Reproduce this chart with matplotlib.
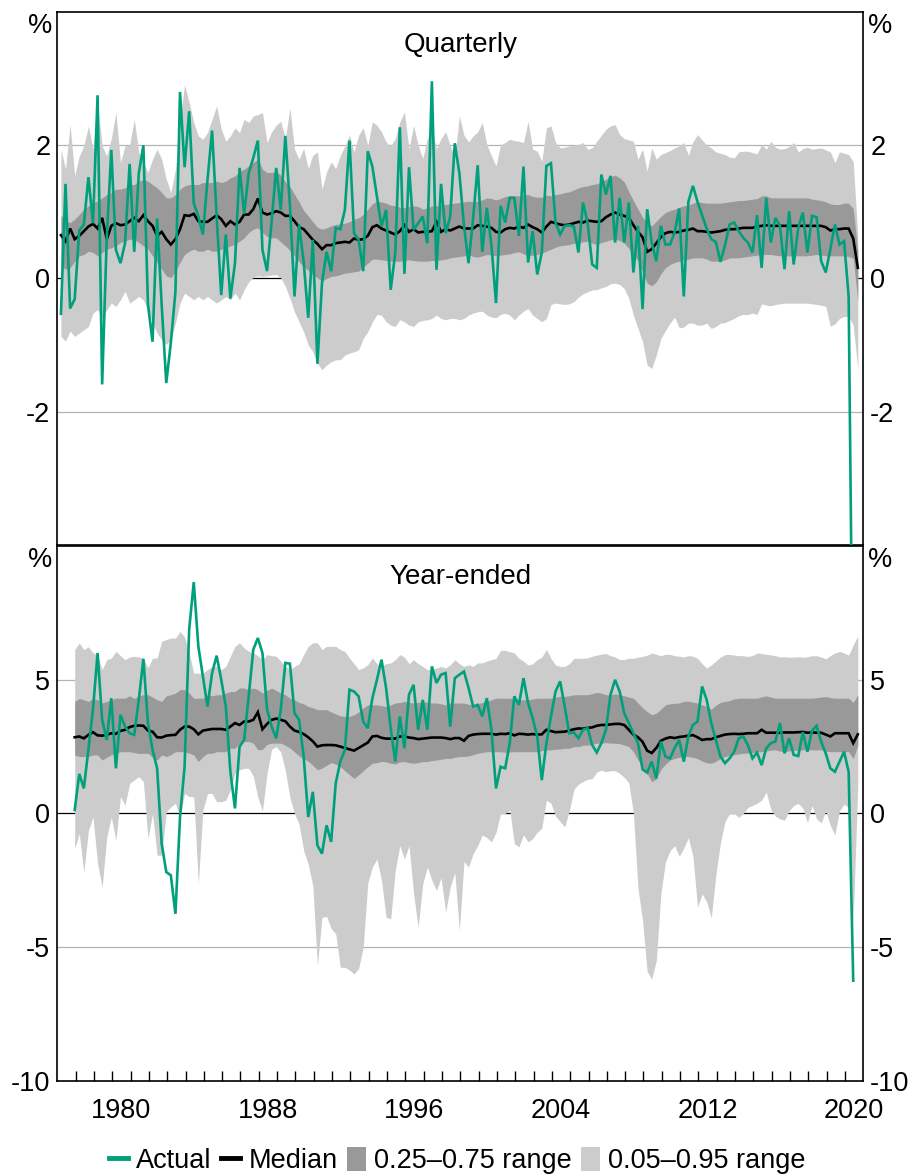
import numpy as np
import pandas as pd
import matplotlib
matplotlib.use("Agg")
import matplotlib.pyplot as plt
from matplotlib.patches import Patch
from matplotlib.lines import Line2D

plt.rcParams['font.family'] = ['Liberation Sans', 'DejaVu Sans']
plt.rcParams['axes.unicode_minus'] = False

# ---------------- Quarterly growth (%), 1977Q1 onwards ----------------
q_start = '1977Q1'
q_actual = [
    -0.53, 1.42, -0.45, -0.31, 0.72, 0.81, 1.52, 0.83, 2.75, -1.59,
    0.6, 1.93, 0.43, 0.23, 0.53, 1.72, 0.4, 1.58, 2.0, -0.39,
    -0.95, 0.9, -0.4, -1.57, -0.96, -0.2, 2.8, 1.67, 2.51, 1.13,
    0.93, 0.66, 1.48, 2.22, 0.93, -0.25, 0.66, -0.3, 0.23, 1.66,
    0.97, 1.58, 1.81, 2.07, 0.43, 0.11, 0.85, 1.66, 1.03, 2.14,
    1.1, -0.27, 0.81, 0.25, -0.59, 0.58, -1.28, -0.07, 0.4, 0.11,
    0.76, 0.74, 1.03, 2.07, 0.68, 0.58, 0.11, 1.91, 1.68, 1.23,
    0.78, 1.03, -0.17, 0.38, 2.27, 0.07, 1.67, 0.73, 0.83, 0.93,
    0.53, 2.96, 0.13, 1.42, 0.68, 0.93, 2.03, 1.58, 0.8, 0.23,
    0.9, 1.7, 0.4, 1.06, 0.5, -0.37, 1.09, 0.84, 1.21, 1.21,
    0.64, 1.68, 0.24, 0.71, 0.06, 0.39, 1.69, 1.73, 0.84, 0.66,
    0.79, 0.8, 0.78, 0.39, 1.14, 0.84, 0.21, 0.16, 1.56, 1.26,
    1.54, 0.54, 1.21, 0.54, 1.14, 0.09, 0.79, -0.46, 1.04, 0.54,
    0.26, 0.79, 0.51, 0.51, 0.69, 1.05, -0.27, 1.15, 1.39, 1.15,
    0.95, 0.75, 0.59, 0.55, 0.25, 0.5, 0.81, 0.84, 0.71, 0.61,
    0.54, 0.39, 0.95, 0.16, 1.21, 0.54, 0.91, 0.79, 0.14, 1.01,
    0.21, 0.76, 0.99, 0.39, 0.94, 0.92, 0.26, 0.09, 0.44, 0.81,
    0.51, 0.56, -0.27, -7.0]
q_median = [
    0.65, 0.56, 0.75, 0.59, 0.64, 0.71, 0.78, 0.82, 0.75, 0.91,
    0.59, 0.79, 0.83, 0.8, 0.81, 0.86, 0.91, 0.86, 0.95, 0.86,
    0.79, 0.64, 0.7, 0.59, 0.51, 0.59, 0.74, 0.95, 0.94, 0.97,
    0.86, 0.85, 0.85, 0.9, 0.95, 0.89, 0.79, 0.86, 0.81, 0.85,
    0.96, 0.96, 1.04, 1.2, 0.99, 0.96, 0.98, 1.01, 0.99, 0.94,
    0.94, 0.86, 0.77, 0.74, 0.66, 0.58, 0.52, 0.44, 0.5, 0.5,
    0.53, 0.54, 0.55, 0.54, 0.6, 0.58, 0.59, 0.64, 0.77, 0.8,
    0.75, 0.72, 0.69, 0.66, 0.71, 0.8, 0.7, 0.74, 0.69, 0.7,
    0.7, 0.71, 0.85, 0.7, 0.74, 0.72, 0.75, 0.78, 0.75, 0.75,
    0.75, 0.8, 0.79, 0.78, 0.76, 0.7, 0.69, 0.74, 0.76, 0.75,
    0.78, 0.76, 0.81, 0.77, 0.74, 0.69, 0.78, 0.85, 0.83, 0.81,
    0.8, 0.81, 0.83, 0.85, 0.84, 0.87, 0.86, 0.85, 0.86, 0.92,
    0.96, 0.99, 0.96, 0.94, 0.91, 0.8, 0.7, 0.62, 0.4, 0.44,
    0.53, 0.62, 0.68, 0.7, 0.69, 0.7, 0.72, 0.73, 0.75, 0.71,
    0.71, 0.7, 0.69, 0.7, 0.71, 0.73, 0.74, 0.74, 0.75, 0.76,
    0.76, 0.76, 0.78, 0.79, 0.8, 0.79, 0.79, 0.79, 0.79, 0.79,
    0.79, 0.79, 0.79, 0.79, 0.79, 0.79, 0.79, 0.77, 0.72, 0.74,
    0.74, 0.75, 0.75, 0.6, 0.16]
q_p75 = [
    0.95, 0.86, 0.84, 0.89, 0.96, 1.04, 1.09, 1.14, 1.16, 1.21,
    1.26, 1.29, 1.34, 1.34, 1.36, 1.41, 1.41, 1.46, 1.49, 1.46,
    1.41, 1.36, 1.29, 1.21, 1.21, 1.26, 1.34, 1.39, 1.41, 1.41,
    1.41, 1.44, 1.44, 1.44, 1.46, 1.44, 1.46, 1.51, 1.54, 1.61,
    1.64, 1.69, 1.74, 1.79, 1.64, 1.59, 1.59, 1.61, 1.55, 1.45,
    1.38, 1.26, 1.15, 1.02, 0.94, 0.85, 0.77, 0.74, 0.76, 0.79,
    0.81, 0.82, 0.83, 0.85, 0.89, 0.91, 0.96, 1.04, 1.12, 1.16,
    1.15, 1.13, 1.1, 1.09, 1.07, 1.06, 1.08, 1.09, 1.08, 1.04,
    1.06, 1.09, 1.09, 1.1, 1.11, 1.12, 1.13, 1.14, 1.15, 1.16,
    1.15, 1.16, 1.18, 1.21, 1.2, 1.18, 1.2, 1.23, 1.24, 1.24,
    1.24, 1.25, 1.26, 1.23, 1.22, 1.22, 1.25, 1.24, 1.26, 1.27,
    1.29, 1.3, 1.33, 1.36, 1.38, 1.39, 1.41, 1.42, 1.45, 1.49,
    1.53, 1.55, 1.51, 1.45, 1.3, 1.17, 1.04, 0.92, 0.83, 0.79,
    0.86, 0.93, 0.99, 1.02, 1.04, 1.07, 1.09, 1.1, 1.13, 1.15,
    1.14, 1.13, 1.13, 1.13, 1.13, 1.14, 1.15, 1.16, 1.17, 1.17,
    1.18, 1.19, 1.2, 1.24, 1.24, 1.21, 1.21, 1.21, 1.21, 1.21,
    1.21, 1.21, 1.21, 1.21, 1.19, 1.18, 1.17, 1.15, 1.12, 1.11,
    1.11, 1.13, 1.13, 1.05, 0.41]
q_p25 = [
    0.19, 0.14, 0.16, 0.26, 0.34, 0.36, 0.41, 0.39, 0.34, 0.39,
    0.44, 0.46, 0.49, 0.54, 0.56, 0.59, 0.59, 0.54, 0.49, 0.44,
    0.34, 0.24, 0.14, 0.04, 0.01, 0.11, 0.24, 0.36, 0.41, 0.44,
    0.41, 0.41, 0.44, 0.41, 0.41, 0.44, 0.46, 0.49, 0.51, 0.56,
    0.61, 0.69, 0.74, 0.76, 0.69, 0.63, 0.61, 0.61, 0.55, 0.49,
    0.42, 0.34, 0.25, 0.18, 0.12, 0.06, 0.01, -0.04, 0.0, 0.03,
    0.04, 0.06, 0.08, 0.09, 0.1, 0.11, 0.17, 0.23, 0.29, 0.29,
    0.28, 0.27, 0.26, 0.26, 0.26, 0.27, 0.28, 0.27, 0.26, 0.26,
    0.26, 0.27, 0.27, 0.28, 0.29, 0.31, 0.32, 0.33, 0.34, 0.36,
    0.33, 0.32, 0.34, 0.36, 0.35, 0.34, 0.35, 0.36, 0.37, 0.39,
    0.4, 0.37, 0.34, 0.35, 0.36, 0.38, 0.41, 0.44, 0.47, 0.49,
    0.5, 0.51, 0.53, 0.54, 0.55, 0.56, 0.53, 0.51, 0.54, 0.56,
    0.58, 0.59, 0.57, 0.53, 0.45, 0.35, 0.27, 0.1, -0.07, -0.11,
    -0.05, 0.07, 0.16, 0.21, 0.24, 0.26, 0.28, 0.29, 0.31, 0.31,
    0.31, 0.29, 0.26, 0.26, 0.26, 0.28, 0.31, 0.31, 0.31, 0.32,
    0.33, 0.34, 0.35, 0.36, 0.36, 0.36, 0.35, 0.34, 0.34, 0.34,
    0.34, 0.34, 0.34, 0.34, 0.35, 0.36, 0.35, 0.34, 0.34, 0.34,
    0.34, 0.34, 0.33, 0.3, -0.34]
q_p95 = [
    1.94, 1.64, 2.31, 1.54, 1.84, 1.99, 2.29, 1.94, 2.64, 1.99,
    1.84, 2.1, 2.49, 1.74, 1.99, 2.0, 2.39, 1.89, 1.74, 1.59,
    1.79, 1.94, 1.79, 1.49, 1.29, 1.64, 2.39, 2.91, 2.64, 2.34,
    2.14, 2.09, 2.19, 2.39, 2.59, 2.24, 2.06, 2.14, 2.26, 2.19,
    2.39, 2.34, 2.44, 2.46, 2.49, 2.04, 2.2, 2.3, 2.36, 2.1,
    2.56, 1.94, 1.79, 1.95, 1.65, 1.85, 1.9, 1.34, 1.6, 1.75,
    1.65, 1.85, 1.99, 2.15, 1.9, 2.15, 2.26, 2.0, 2.35, 2.3,
    2.2, 2.05, 1.99, 2.1, 2.35, 2.5, 1.94, 2.3, 2.0, 1.8,
    2.1, 2.24, 1.95, 2.1, 2.2, 2.0, 1.81, 2.44, 2.15, 2.05,
    2.14, 2.2, 2.34, 2.01, 1.84, 1.69, 2.01, 2.04, 2.09, 2.07,
    2.06, 2.04, 2.36, 1.94, 1.91, 1.76, 2.26, 2.29, 2.04, 1.96,
    1.97, 1.99, 2.0, 2.01, 2.04, 1.94, 1.96, 2.06, 2.15, 2.24,
    2.29, 2.31, 2.16, 2.1, 2.08, 2.06, 1.79, 1.94, 1.61, 1.96,
    1.79, 1.86, 1.89, 1.92, 1.96, 1.99, 2.04, 1.85, 2.05, 2.16,
    2.08, 2.0, 1.96, 1.9, 1.88, 1.86, 1.82, 1.81, 1.9, 1.91,
    1.91, 1.89, 1.87, 2.01, 1.94, 2.06, 1.97, 1.94, 1.95, 1.98,
    2.04, 1.9, 1.95, 1.97, 1.94, 1.95, 1.96, 1.93, 1.9, 1.74,
    1.9, 1.88, 1.86, 1.75, 0.64]
q_p05 = [
    -0.87, -0.94, -0.79, -0.87, -0.82, -0.77, -0.72, -0.52, -0.47, -0.59,
    -0.47, -0.37, -0.42, -0.32, -0.19, -0.37, -0.32, -0.27, -0.32, -0.47,
    -0.67, -0.82, -0.92, -0.99, -0.92, -0.67, -0.37, -0.22, -0.27, -0.32,
    -0.27, -0.32, -0.27, -0.32, -0.37, -0.32, -0.27, -0.32, -0.22, -0.32,
    -0.17, -0.05, 0.02, 0.04, 0.03, 0.04, 0.05, 0.06, 0.01, -0.12,
    -0.3, -0.5, -0.65, -0.8, -1.0, -1.1, -1.27, -1.37, -1.3, -1.25,
    -1.22, -1.22, -1.15, -1.12, -1.1, -1.07, -0.9, -0.8, -0.65, -0.54,
    -0.55, -0.65, -0.7, -0.72, -0.62, -0.65, -0.7, -0.72, -0.65, -0.63,
    -0.62, -0.6, -0.55, -0.6, -0.62, -0.6, -0.6, -0.62, -0.6, -0.55,
    -0.52, -0.5, -0.49, -0.55, -0.58, -0.59, -0.54, -0.52, -0.55, -0.62,
    -0.55, -0.49, -0.45, -0.55, -0.6, -0.65, -0.6, -0.39, -0.37, -0.38,
    -0.39, -0.38, -0.35, -0.28, -0.23, -0.2, -0.17, -0.17, -0.14, -0.12,
    -0.08, -0.07, -0.09, -0.15, -0.3, -0.55, -0.75, -0.95, -1.3, -1.35,
    -1.15, -0.9, -0.78, -0.67, -0.58, -0.74, -0.73, -0.67, -0.67, -0.7,
    -0.7, -0.67, -0.75, -0.72, -0.67, -0.66, -0.63, -0.6, -0.56, -0.54,
    -0.54, -0.52, -0.54, -0.38, -0.4, -0.41, -0.39, -0.38, -0.37, -0.37,
    -0.37, -0.37, -0.37, -0.37, -0.38, -0.39, -0.4, -0.42, -0.72, -0.68,
    -0.6, -0.57, -0.57, -0.7, -1.37]

# ---------------- Year-ended growth (%), 1977Q4 onwards ----------------
ye_start = '1977Q4'
ye_actual = [
    0.13, 1.48, 0.94, 2.4, 3.9, 6.0, 3.5, 2.75, 4.31, 1.69,
    3.69, 3.25, 3.0, 2.94, 4.25, 5.78, 3.38, 2.38, 1.69, -1.13,
    -2.19, -2.31, -3.75, -0.13, 1.75, 6.88, 8.65, 6.25, 5.13, 4.0,
    5.25, 5.9, 5.0, 4.0, 1.56, 0.19, 2.5, 2.75, 4.38, 6.13,
    6.56, 6.0, 3.9, 3.25, 2.81, 3.88, 5.63, 5.6, 3.75, 3.5,
    2.13, -0.13, 0.81, -1.19, -1.5, -0.44, -1.06, 1.13, 1.94, 2.38,
    4.63, 4.56, 4.38, 3.44, 3.19, 4.31, 5.0, 5.75, 4.69, 3.19,
    1.94, 3.63, 2.44, 4.44, 4.81, 3.13, 4.25, 3.13, 5.5, 4.88,
    5.19, 5.25, 3.25, 5.06, 5.19, 5.31, 4.7, 4.0, 4.06, 3.63,
    4.31, 3.13, 0.94, 1.75, 1.69, 2.63, 4.38, 4.06, 5.06, 4.13,
    3.56, 2.88, 1.25, 2.63, 3.63, 4.56, 4.94, 4.0, 3.0, 3.03,
    2.81, 3.13, 3.19, 2.56, 2.28, 2.63, 3.13, 4.44, 5.0, 4.56,
    3.75, 3.38, 3.0, 2.63, 1.65, 1.53, 1.94, 1.31, 2.69, 2.13,
    2.06, 2.45, 2.75, 1.94, 2.88, 3.31, 3.44, 4.75, 4.25, 3.38,
    2.75, 2.13, 1.88, 2.06, 2.31, 2.81, 2.88, 2.56, 2.06, 2.28,
    1.81, 2.44, 2.63, 2.69, 3.38, 2.25, 2.81, 2.19, 2.15, 3.04,
    2.31, 3.1, 3.28, 2.69, 2.25, 1.69, 1.56, 1.94, 2.31, 1.56,
    -6.25]
ye_median = [
    2.85, 2.88, 2.81, 2.94, 3.04, 2.92, 2.91, 2.94, 3.0, 2.98,
    3.09, 3.13, 3.23, 3.28, 3.29, 3.28, 3.1, 3.06, 2.85, 2.84,
    2.91, 2.93, 2.94, 3.13, 3.25, 3.25, 3.15, 2.96, 3.1, 3.13,
    3.16, 3.16, 3.16, 3.13, 3.25, 3.38, 3.31, 3.44, 3.44, 3.5,
    3.79, 3.15, 3.35, 3.5, 3.55, 3.5, 3.45, 3.25, 3.1, 3.05,
    2.97, 2.85, 2.7, 2.5, 2.55, 2.56, 2.56, 2.55, 2.5, 2.45,
    2.4, 2.35, 2.45, 2.55, 2.65, 2.88, 2.9, 2.83, 2.8, 2.8,
    2.8, 2.88, 2.88, 2.84, 2.82, 2.78, 2.8, 2.82, 2.84, 2.84,
    2.84, 2.82, 2.78, 2.82, 2.82, 2.72, 2.9, 2.95, 2.97, 2.98,
    2.98, 2.98, 2.95, 2.98, 2.97, 3.0, 2.92, 2.98, 2.97, 2.95,
    2.97, 2.95, 2.96, 3.13, 3.08, 3.04, 3.05, 3.06, 3.1, 3.15,
    3.18, 3.17, 3.2, 3.22, 3.28, 3.31, 3.31, 3.33, 3.35, 3.35,
    3.31, 3.13, 2.95, 2.85, 2.68, 2.35, 2.26, 2.45, 2.72, 2.8,
    2.85, 2.82, 2.86, 2.88, 2.91, 2.93, 2.85, 2.75, 2.78, 2.78,
    2.85, 2.9, 2.95, 2.97, 2.98, 2.97, 2.98, 3.0, 3.0, 3.0,
    3.13, 3.02, 3.02, 3.02, 3.02, 3.03, 3.03, 3.03, 3.04, 3.05,
    3.02, 3.03, 3.02, 3.02, 2.95, 2.88, 3.0, 3.0, 3.0, 3.0,
    2.63, 2.96]
ye_p75 = [
    4.19, 4.3, 4.25, 4.19, 4.3, 4.25, 4.13, 4.19, 4.25, 4.31,
    4.31, 4.31, 4.4, 4.3, 4.4, 4.44, 4.44, 4.35, 4.25, 4.19,
    4.4, 4.44, 4.5, 4.63, 4.63, 4.5, 4.31, 4.31, 4.31, 4.44,
    4.4, 4.44, 4.44, 4.5, 4.56, 4.56, 4.69, 4.69, 4.63, 4.69,
    4.63, 4.5, 4.6, 4.69, 4.6, 4.5, 4.44, 4.31, 4.25, 4.15,
    4.1, 4.0, 3.95, 3.88, 3.88, 3.88, 3.8, 3.72, 3.65, 3.63,
    3.63, 3.69, 3.8, 3.95, 4.06, 4.06, 4.06, 4.03, 4.0, 4.06,
    4.13, 4.15, 4.19, 4.15, 4.13, 4.15, 4.19, 4.15, 4.13, 4.13,
    4.1, 4.06, 4.13, 4.13, 4.13, 4.13, 4.08, 4.05, 4.1, 4.15,
    4.19, 4.25, 4.31, 4.31, 4.31, 4.31, 4.28, 4.25, 4.25, 4.25,
    4.28, 4.31, 4.31, 4.31, 4.31, 4.35, 4.38, 4.38, 4.4, 4.44,
    4.44, 4.44, 4.44, 4.48, 4.53, 4.5, 4.44, 4.44, 4.47, 4.44,
    4.4, 4.35, 4.31, 4.13, 3.95, 3.81, 3.69, 3.75, 3.9, 4.06,
    4.1, 4.12, 4.13, 4.19, 4.2, 4.16, 4.13, 4.06, 4.0, 3.9,
    4.05, 4.15, 4.19, 4.22, 4.28, 4.31, 4.31, 4.31, 4.31, 4.31,
    4.36, 4.4, 4.35, 4.31, 4.31, 4.31, 4.31, 4.31, 4.31, 4.31,
    4.31, 4.31, 4.33, 4.35, 4.37, 4.33, 4.31, 4.31, 4.31, 4.31,
    4.15, 4.44]
ye_p25 = [
    2.19, 2.13, 2.13, 2.13, 2.19, 2.19, 2.0, 2.1, 2.2, 2.25,
    2.31, 2.31, 2.31, 2.28, 2.25, 2.25, 2.25, 2.1, 2.0, 2.19,
    2.13, 2.2, 2.31, 2.31, 2.31, 2.25, 2.19, 1.94, 2.13, 2.25,
    2.25, 2.31, 2.31, 2.31, 2.44, 2.44, 2.63, 2.69, 2.69, 2.63,
    2.38, 2.4, 2.58, 2.63, 2.63, 2.63, 2.55, 2.45, 2.3, 2.15,
    2.05, 1.95, 1.8, 1.63, 1.7, 1.8, 1.9, 1.85, 1.75, 1.6,
    1.45, 1.31, 1.45, 1.6, 1.75, 1.88, 1.9, 1.95, 1.93, 1.88,
    1.85, 1.93, 1.94, 1.9, 1.88, 1.9, 1.94, 1.94, 1.98, 2.0,
    2.03, 2.06, 2.06, 2.1, 2.13, 2.13, 2.15, 2.2, 2.25, 2.28,
    2.31, 2.31, 2.31, 2.31, 2.29, 2.3, 2.31, 2.31, 2.31, 2.31,
    2.31, 2.31, 2.35, 2.37, 2.38, 2.4, 2.41, 2.44, 2.44, 2.5,
    2.5, 2.55, 2.56, 2.59, 2.63, 2.63, 2.65, 2.63, 2.63, 2.61,
    2.56, 2.5, 2.31, 2.0, 1.75, 1.5, 1.19, 1.3, 1.65, 1.85,
    2.0, 2.06, 2.1, 2.15, 2.13, 2.1, 2.05, 1.96, 1.9, 1.88,
    1.95, 2.06, 2.13, 2.18, 2.2, 2.23, 2.25, 2.26, 2.28, 2.3,
    2.31, 2.33, 2.37, 2.38, 2.33, 2.31, 2.34, 2.36, 2.37, 2.38,
    2.38, 2.38, 2.38, 2.38, 2.33, 2.31, 2.31, 2.31, 2.31, 2.31,
    2.05, 2.56]
ye_p95 = [
    6.13, 6.38, 6.13, 6.23, 6.0, 5.94, 5.38, 5.75, 5.81, 6.06,
    5.9, 5.75, 5.85, 5.88, 5.85, 5.81, 5.44, 5.81, 5.81, 6.44,
    6.5, 6.56, 6.56, 6.81, 6.6, 6.0, 5.25, 5.25, 5.25, 5.38,
    5.5, 5.5, 5.38, 5.5, 5.88, 6.25, 6.38, 6.19, 6.06, 6.0,
    5.9, 5.75, 5.94, 5.9, 5.88, 5.7, 5.5, 5.38, 5.5, 5.6,
    5.94, 6.25, 6.38, 6.38, 6.13, 6.25, 6.25, 6.25, 6.13, 6.06,
    5.81, 5.6, 5.38, 5.44, 5.56, 5.81, 5.6, 5.5, 5.6, 5.63,
    5.75, 5.94, 5.85, 5.6, 5.75, 5.6, 5.5, 5.38, 5.38, 5.44,
    5.5, 5.44, 5.56, 5.75, 5.6, 5.5, 5.56, 5.5, 5.63, 5.63,
    5.7, 5.75, 5.8, 6.1, 6.1, 6.05, 6.0, 5.8, 5.7, 5.55,
    5.6, 5.75, 5.85, 6.13, 5.8, 5.55, 5.5, 5.5, 5.6, 5.8,
    5.8, 5.8, 5.82, 5.88, 5.92, 5.96, 5.98, 5.9, 5.85, 5.75,
    5.76, 5.8, 5.8, 5.85, 5.87, 5.92, 6.0, 5.95, 5.9, 5.95,
    5.95, 5.9, 5.88, 5.85, 5.9, 5.88, 5.8, 5.6, 5.44, 5.55,
    5.7, 5.85, 5.94, 5.95, 5.92, 5.9, 5.9, 5.87, 5.9, 6.0,
    5.98, 5.95, 5.93, 5.9, 5.85, 5.86, 5.84, 5.85, 5.86, 5.84,
    5.86, 5.9, 5.9, 5.85, 5.78, 5.9, 6.0, 6.06, 6.0, 5.92,
    6.3, 6.63]
ye_p05 = [
    -1.31, -0.75, -2.19, -0.63, -0.13, -1.88, -2.75, -0.88, -0.13, -1.0,
    0.63, 0.31, 1.13, 1.25, 1.38, 1.19, -0.94, 0.0, -1.56, -1.56,
    0.06, 0.25, 0.38, -0.13, 0.75, 0.63, 0.63, -2.63, 0.13, 0.75,
    0.75, 0.44, 0.44, 0.5, 0.88, 1.5, 1.63, 1.69, 1.69, 1.4,
    0.6, 0.1, 1.5, 2.4, 2.5, 2.3, 1.6, 0.6, 0.0, -0.4,
    -1.38, -1.9, -2.7, -5.69, -3.88, -3.85, -4.3, -4.5, -5.75, -5.75,
    -5.85, -6.0, -5.8, -5.0, -2.6, -2.0, -1.7, -2.5, -3.88, -3.94,
    -2.13, -1.2, -1.7, -1.2, -3.0, -4.25, -2.63, -2.0, -2.5, -2.88,
    -2.4, -3.69, -2.75, -2.2, -4.38, -1.8, -2.0, -1.5, -1.2, -0.8,
    -0.9, -1.06, -0.7, 0.0, 0.0, 0.13, -1.13, -1.25, -0.8, -1.06,
    -0.94, -0.7, -0.55, 0.5, 0.38, -0.1, -0.3, -0.5, 0.1, 0.9,
    1.1, 1.2, 1.28, 1.3, 1.55, 1.62, 1.56, 1.6, 1.6, 1.5,
    1.35, 1.15, 0.0, -2.8, -4.0, -5.9, -6.19, -5.5, -3.0, -1.8,
    -1.4, -1.2, -1.6, -1.3, -0.9, -1.6, -3.5, -3.0, -3.3, -3.9,
    -2.3, -1.1, -0.3, 0.0, 0.0, -0.15, 0.0, 0.23, 0.3, 0.38,
    0.5, 0.8, 0.15, -0.1, -0.2, -0.25, 0.1, 0.3, 0.38, 0.2,
    -0.35, 0.3, -0.2, -0.35, 0.1, -0.45, -0.8, 0.1, 0.35, 0.2,
    -4.0, 1.1]

year_ticks = [1980, 1988, 1996, 2004, 2012, 2020]
q_yticks = [-2, 0, 2]
ye_yticks = [-10, -5, 0, 5]

GREEN = '#00a07c'
DARK = '#999999'
LIGHT = '#cccccc'
GRID = '#b4b4b4'
FS = 19.5


def qpos(start, n):
    p = pd.period_range(start, periods=n, freq='Q')
    return np.asarray(p.year + (p.quarter - 1) / 4.0 + 0.2, dtype=float)


fig = plt.figure(figsize=(9.15, 11.76), dpi=100)
ax1 = fig.add_axes([0.0626, 0.5366, 0.8809, 0.4532])
ax2 = fig.add_axes([0.0626, 0.0808, 0.8809, 0.4549])


def draw(ax, start, actual, med, p25, p75, p05, p95, ylim, yticks, grid_vals, title, title_y):
    tb = qpos(start, len(med))
    ta = qpos(start, len(actual))
    for g in grid_vals:
        ax.axhline(g, color=GRID, lw=0.9, zorder=0)
    ax.axhline(0, color='black', lw=0.9, zorder=0.5)
    ax.fill_between(tb, p05, p95, color=LIGHT, lw=0, zorder=1)
    ax.fill_between(tb, p25, p75, color=DARK, lw=0, zorder=2)
    ax.plot(tb, med, color='black', lw=1.9, zorder=3, solid_joinstyle='miter')
    ax.plot(ta, actual, color=GREEN, lw=1.9, zorder=4, solid_joinstyle='miter')
    ax.set_xlim(1977.0, 2021.0)
    ax.set_ylim(*ylim)
    ax.set_yticks(yticks)
    ax.set_yticklabels([str(v) for v in yticks])
    ax.tick_params(axis='y', which='both', length=0, pad=5, labelsize=FS,
                   labelleft=True, labelright=True)
    for s in ax.spines.values():
        s.set_linewidth(1.2)
        s.set_color('black')
    ax.annotate('%', xy=(0, 1), xycoords='axes fraction', xytext=(-5, -14),
                textcoords='offset pixels', ha='right', va='center', fontsize=FS)
    ax.annotate('%', xy=(1, 1), xycoords='axes fraction', xytext=(5, -14),
                textcoords='offset pixels', ha='left', va='center', fontsize=FS)
    ax.text(0.5, title_y, title, transform=ax.transAxes, ha='center',
            va='center', fontsize=FS + 0.5)


draw(ax1, q_start, q_actual, q_median, q_p25, q_p75, q_p05, q_p95,
     (-4, 4), q_yticks, [-2, 2], 'Quarterly', 0.938)
draw(ax2, ye_start, ye_actual, ye_median, ye_p25, ye_p75, ye_p05, ye_p95,
     (-10, 10), ye_yticks, [-5, 5], 'Year-ended', 0.942)

ax1.set_xticks([])
ax1.tick_params(axis='x', which='both', length=0, labelbottom=False)

ax2.set_xticks(np.arange(1978, 2021))
ax2.set_xticklabels([])
ax2.set_xticks([y + 0.5 for y in year_ticks], minor=True)
ax2.set_xticklabels([str(y) for y in year_ticks], minor=True)
ax2.tick_params(axis='x', which='major', direction='in', length=7.5, width=1.0,
                color='black')
ax2.tick_params(axis='x', which='minor', length=0, pad=12, labelsize=FS)

handles = [
    Line2D([0], [0], color=GREEN, lw=3.5),
    Line2D([0], [0], color='black', lw=3.5),
    Patch(facecolor=DARK, edgecolor='none'),
    Patch(facecolor=LIGHT, edgecolor='none'),
]
labels = ['Actual', 'Median', '0.25\u20130.75 range', '0.05\u20130.95 range']
fig.legend(handles, labels, loc='center', bbox_to_anchor=(0.5, 0.013), ncol=4,
           frameon=False, fontsize=FS, handlelength=0.7, handleheight=1.0,
           handletextpad=0.3, columnspacing=0.35, borderaxespad=0)

fig.savefig('out.png', dpi=100)
